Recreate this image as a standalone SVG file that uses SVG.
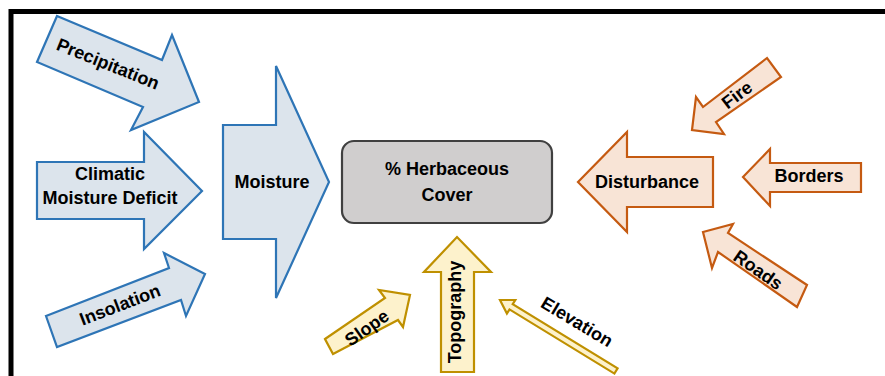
<svg xmlns="http://www.w3.org/2000/svg" width="885" height="376" viewBox="0 0 885 376">
<style>
.blue{fill:#dce4ec;stroke:#2e75b6;stroke-width:2.2;stroke-linejoin:miter}
.orange{fill:#f8e4d6;stroke:#c55a11;stroke-width:2.2}
.yellow{fill:#fdf2cc;stroke:#bf9000;stroke-width:2.2}
.box{fill:#d0cece;stroke:#404040;stroke-width:2.2}
.t{font-family:"Liberation Sans",Arial,sans-serif;font-weight:bold;font-size:18px;fill:#000;text-anchor:middle}
</style>
<rect x="0" y="0" width="885" height="376" fill="#fff"/>
<path d="M11,376 V11.5 H885" fill="none" stroke="#000" stroke-width="5"/>

<g id="precipitation">
<polygon class="blue" points="57,16 162,60 172,35 199,102 131,130 143,107 37,62"/>
<text class="t" transform="translate(108,64) rotate(22)" y="6">Precipitation</text>
</g>
<g id="climatic-moisture-deficit">
<polygon class="blue" points="37,162 144,162 144,132 202,191 144,249 144,219 37,219"/>
<text class="t" x="110" y="180">Climatic</text>
<text class="t" x="110" y="204">Moisture Deficit</text>
</g>
<g id="insolation">
<polygon class="blue" points="46,316 169,268 164,253 205,274 186,316 181,300 57,347"/>
<text class="t" transform="translate(120,305) rotate(-21)" y="6">Insolation</text>
</g>
<g id="moisture">
<polygon class="blue" points="223,125 276,125 276,66 329,182 276,298 276,239 223,239"/>
<text class="t" x="272" y="188">Moisture</text>
</g>
<g id="herbaceous-cover">
<rect class="box" x="342" y="141" width="210" height="82" rx="12" ry="12"/>
<text class="t" x="447" y="175">% Herbaceous</text>
<text class="t" x="447" y="201">Cover</text>
</g>
<g id="slope">
<polygon class="yellow" points="325,339 385,298 379,290 410,295 403,327 398,320 333,354"/>
<text class="t" transform="translate(367,328) rotate(-35)" y="6">Slope</text>
</g>
<g id="topography">
<polygon class="yellow" points="441,372 441,272 424,272 457,237 491,272 474,272 474,372"/>
<text class="t" transform="translate(455,312) rotate(-90)" y="6">Topography</text>
</g>
<g id="elevation">
<polygon class="yellow" points="500,300 515.3,300 512.7,304.2 617.6,368.4 614.4,373.6 509.5,309.4 506.9,313.6"/>
<text class="t" transform="translate(577,322) rotate(31)" y="6">Elevation</text>
</g>
<g id="fire">
<polygon class="orange" points="767,58 703,107 696,97 692,130 724,134 716,122 781,77"/>
<text class="t" transform="translate(737,95) rotate(-37)" y="6">Fire</text>
</g>
<g id="disturbance">
<polygon class="orange" points="578,182 627,132 627,157 713,157 713,207 627,207 627,232"/>
<text class="t" x="647" y="188">Disturbance</text>
</g>
<g id="borders">
<polygon class="orange" points="743,177 770,149 770,163 861,163 861,192 770,192 770,206"/>
<text class="t" x="809" y="182">Borders</text>
</g>
<g id="roads">
<polygon class="orange" points="703,232 733,224 728,233 807,285 797,307 718,252 712,268"/>
<text class="t" transform="translate(758,270) rotate(35)" y="6">Roads</text>
</g>
<g id="connectors"></g>
</svg>
